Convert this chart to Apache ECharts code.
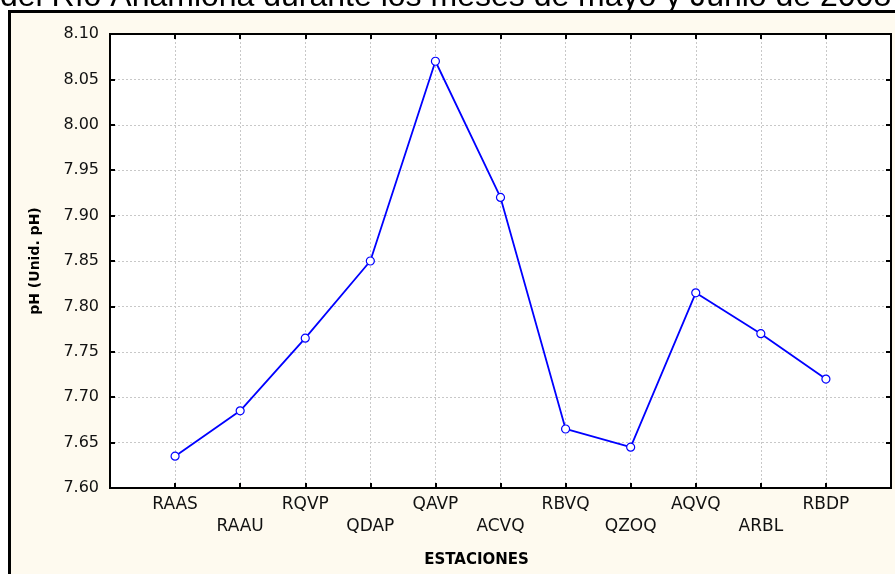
<!DOCTYPE html>
<html>
<head>
<meta charset="utf-8">
<script src="https://cdn.jsdelivr.net/npm/echarts@6/dist/echarts.min.js"></script>
<style>
html,body{margin:0;padding:0;background:#fff;}
#c{width:895px;height:574px;}
</style>
</head>
<body>
<div id="c"></div>
<script>
var titleText = 'del Río Anamiona durante los meses de mayo y Junio de 2008';
var categories = ['RAAS','RAAU','RQVP','QDAP','QAVP','ACVQ','RBVQ','QZOQ','AQVQ','ARBL','RBDP'];
var phValues = [7.635, 7.685, 7.765, 7.85, 8.07, 7.92, 7.665, 7.645, 7.815, 7.77, 7.72];
var yMin = 7.60, yMax = 8.10, yStep = 0.05;
var xTitle = 'ESTACIONES';
var yTitle = 'pH (Unid. pH)';

var paddedCats = [''].concat(categories).concat(['']);
var paddedVals = ['-'].concat(phValues).concat(['-']);

var chart = echarts.init(document.getElementById('c'));
var gridLine = {show:true, lineStyle:{color:'#c8c8c8', type:[2,2], width:1}};
var font = 'DejaVu Sans';
chart.setOption({
  animation:false,
  backgroundColor:'#ffffff',
  graphic:[
    {type:'rect', z:-10, silent:true, shape:{x:9.5, y:11.5, width:900, height:580},
     style:{fill:'#fefaef', stroke:'#000', lineWidth:3}},
    {type:'text', z:10, silent:true, x:0, y:13,
     style:{text:titleText, font:'32px "Liberation Sans"', fill:'#000', verticalAlign:'bottom', align:'left'}}
  ],
  grid:{left:110, right:4, top:34, bottom:86, show:true, backgroundColor:'#ffffff', borderColor:'#000', borderWidth:2},
  xAxis:[{
    type:'category', data:paddedCats, boundaryGap:false, position:'bottom',
    axisLine:{lineStyle:{color:'#000', width:2}},
    axisTick:{inside:true, length:5, interval:0, lineStyle:{color:'#000', width:2}},
    splitLine:gridLine,
    axisLabel:{interval:0, margin:6, color:'#111', fontFamily:font, fontSize:17, lineHeight:22,
      formatter:function(v, idx){ var i = idx - 1; return (i % 2 === 1) ? '\n' + v : v; }},
    name:xTitle, nameLocation:'middle', nameGap:65,
    nameTextStyle:{fontFamily:font, fontWeight:'bold', fontSize:15, color:'#000', padding:[0,48,0,0]}
  },{
    type:'category', data:paddedCats, boundaryGap:false, position:'top',
    axisLine:{lineStyle:{color:'#000', width:2}},
    axisTick:{inside:true, length:5, interval:0, lineStyle:{color:'#000', width:2}},
    axisLabel:{show:false}, splitLine:{show:false}
  }],
  yAxis:[{
    type:'value', min:yMin, max:yMax, interval:yStep, position:'left',
    axisLine:{show:true, lineStyle:{color:'#000', width:2}},
    axisTick:{show:true, inside:true, length:5, lineStyle:{color:'#000', width:2}},
    splitLine:gridLine,
    axisLabel:{margin:11, color:'#111', fontFamily:font, fontSize:16, formatter:function(v){return v.toFixed(2);}},
    name:yTitle, nameLocation:'middle', nameGap:68,
    nameTextStyle:{fontFamily:font, fontWeight:'bold', fontSize:14, color:'#000'}
  },{
    type:'value', min:yMin, max:yMax, interval:yStep, position:'right',
    axisLine:{show:true, lineStyle:{color:'#000', width:2}},
    axisTick:{show:true, inside:true, length:5, lineStyle:{color:'#000', width:2}},
    axisLabel:{show:false}, splitLine:{show:false}
  }],
  series:[{
    type:'line', xAxisIndex:0, yAxisIndex:0, data:paddedVals,
    symbol:'circle', symbolSize:8, showSymbol:true,
    lineStyle:{color:'#0000ff', width:1.8},
    itemStyle:{color:'#ffffff', borderColor:'#0000ff', borderWidth:1.2}
  }]
});
</script>
</body>
</html>
